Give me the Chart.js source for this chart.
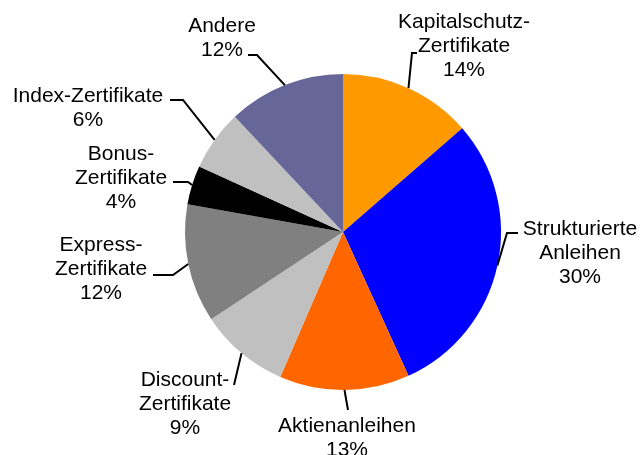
<!DOCTYPE html>
<html>
<head>
<meta charset="utf-8">
<script src="https://cdn.jsdelivr.net/npm/chart.js@4/dist/chart.umd.min.js"></script>
<style>
  html, body { margin: 0; padding: 0; background: #fff; }
  #wrap { width: 642px; height: 455px; }
</style>
</head>
<body>
<div id="wrap"><canvas id="pie" width="642" height="455"></canvas></div>
<script>
// categories (line breaks as in the chart)
const categories = [
  ["Kapitalschutz-", "Zertifikate"],
  ["Strukturierte", "Anleihen"],
  ["Aktienanleihen"],
  ["Discount-", "Zertifikate"],
  ["Express-", "Zertifikate"],
  ["Bonus-", "Zertifikate"],
  ["Index-Zertifikate"],
  ["Andere"]
];
// shares in percent
const shares = [13.6, 29.6, 13.3, 9.2, 12.1, 4.0, 6.2, 12.0];
const colors = ["#FF9900", "#0000FF", "#FF6600", "#C0C0C0", "#808080", "#000000", "#C0C0C0", "#666699"];

// label placement: text center x, first baseline, leader elbow and end
const labelLayout = [
  { x: 464, y: 28,  elbow: [412, 53],  end: [417, 53] },
  { x: 580, y: 235, elbow: [507, 233], end: [518, 233] },
  { x: 347, y: 432, elbow: [348, 410], end: [348, 410] },
  { x: 185, y: 386, elbow: [234, 385], end: [234, 385] },
  { x: 101, y: 251, elbow: [173, 275], end: [153, 275] },
  { x: 121, y: 160, elbow: [188, 182], end: [173, 182] },
  { x: 88,  y: 102, elbow: [183, 100], end: [170, 100] },
  { x: 222, y: 32,  elbow: [257, 55],  end: [248, 55] }
];

const pieLabels = {
  id: "pieLabels",
  afterDatasetsDraw(chart) {
    const ctx = chart.ctx;
    const arcs = chart.getDatasetMeta(0).data;
    ctx.save();
    ctx.strokeStyle = "#000";
    ctx.lineWidth = 2;
    ctx.fillStyle = "#000";
    ctx.font = "21px 'Liberation Sans', Arial, sans-serif";
    ctx.textAlign = "center";
    ctx.textBaseline = "alphabetic";
    arcs.forEach((arc, i) => {
      const p = arc.getProps(["x", "y", "startAngle", "endAngle", "outerRadius"], true);
      const mid = (p.startAngle + p.endAngle) / 2;
      const sx = p.x + Math.cos(mid) * p.outerRadius;
      const sy = p.y + Math.sin(mid) * p.outerRadius;
      const L = labelLayout[i];
      ctx.beginPath();
      ctx.moveTo(sx, sy);
      ctx.lineTo(L.elbow[0], L.elbow[1]);
      ctx.lineTo(L.end[0], L.end[1]);
      ctx.stroke();
      const lines = categories[i].concat([Math.round(shares[i]) + "%"]);
      lines.forEach((t, k) => ctx.fillText(t, L.x, L.y + k * 24));
    });
    ctx.restore();
  }
};

new Chart(document.getElementById("pie"), {
  type: "pie",
  data: {
    labels: categories.map(c => c.join(" ")),
    datasets: [{
      data: shares,
      backgroundColor: colors,
      borderWidth: 0
    }]
  },
  options: {
    responsive: false,
    animation: false,
    layout: { padding: { left: 185, right: 141, top: 74, bottom: 65 } },
    plugins: { legend: { display: false }, tooltip: { enabled: false } }
  },
  plugins: [pieLabels]
});
</script>
</body>
</html>
